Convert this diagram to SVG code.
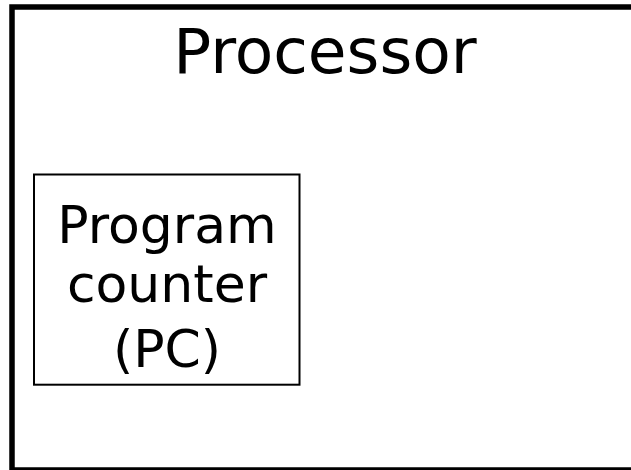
<svg xmlns="http://www.w3.org/2000/svg" width="631" height="470" viewBox="0 0 631 470">
  <style>
    text { font-family: "DejaVu Sans", sans-serif; fill: #000; text-anchor: middle; }
    .title { font-size: 63px; }
    .label { font-size: 52px; }
  </style>
  <rect width="631" height="470" fill="#fff"/>
  <g id="processor">
    <rect x="12" y="7" width="640" height="463" fill="none" stroke="#000" stroke-width="5.5"/>
    <text class="title" x="325" y="72.5">Processor</text>
  </g>
  <g id="program-counter">
    <rect x="34" y="174.5" width="265.5" height="210.2" fill="none" stroke="#000" stroke-width="2"/>
    <text class="label" x="167" y="242.5">Program</text>
    <text class="label" x="167" y="302">counter</text>
    <text class="label" x="167" y="366.5">(PC)</text>
  </g>
  <g id="connectors"/>
</svg>
